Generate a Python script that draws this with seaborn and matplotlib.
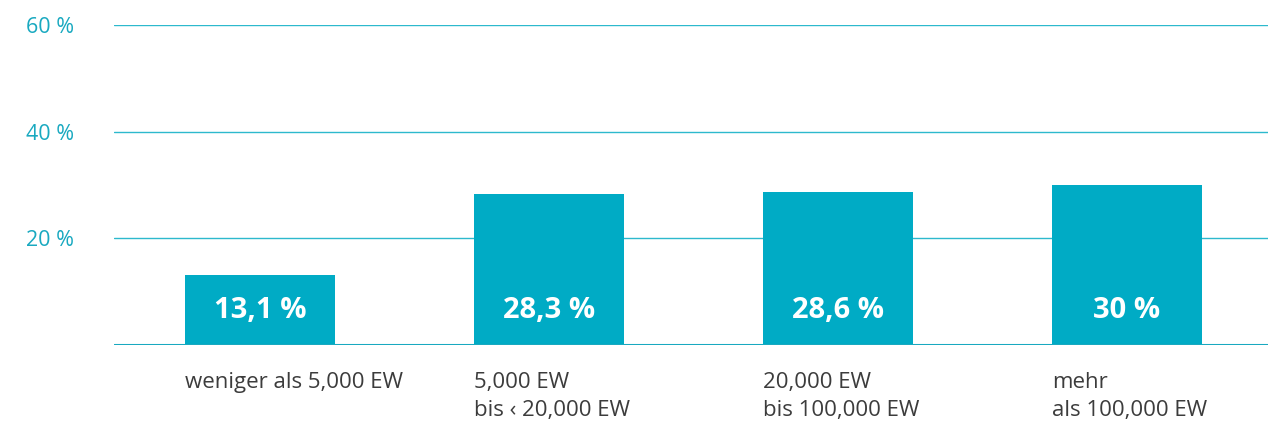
import matplotlib
matplotlib.use("Agg")
import matplotlib.pyplot as plt
import matplotlib.transforms as mtransforms
import seaborn as sns

# Data
categories = ["weniger als 5,000 EW", "5,000 EW\nbis ‹ 20,000 EW",
              "20,000 EW\nbis 100,000 EW", "mehr\nals 100,000 EW"]
values = [13.1, 28.3, 28.6, 30.0]
value_labels = ["13,1 %", "28,3 %", "28,6 %", "30 %"]
yticks = [20, 40, 60]
ytick_labels = ["20 %", "40 %", "60 %"]

bar_color = "#00abc5"
line_color = "#2db9cd"
tick_color = "#19a9c0"
text_color = "#3c3c3c"

sns.set_style("white")
plt.rcParams['font.family'] = ['Open Sans', 'DejaVu Sans']

fig = plt.figure(figsize=(12.68, 4.26), dpi=100)
ax = fig.add_axes([114 / 1268, (426 - 345) / 426, 1154 / 1268, 320 / 426])

bar_w = 150 / 289
sns.barplot(x=list(range(len(values))), y=values, color=bar_color,
            width=bar_w, saturation=1, linewidth=0, ax=ax, zorder=3)

ax.set_xlim(-0.505, 3.488)
ax.set_ylim(0, 60)

# grid lines
for t in yticks:
    ax.axhline(t, color=line_color, lw=1, zorder=1)
ax.axhline(0, color=tick_color, lw=2.2, zorder=4)

ax.set_yticks(yticks)
ax.set_yticklabels(ytick_labels, fontsize=15.5, color=tick_color)
ax.tick_params(axis='y', length=0, pad=29)
ax.set_xticks([])
ax.set_xlabel("")
ax.set_ylabel("")
sns.despine(ax=ax, left=True, bottom=True)

# value labels inside bars
for i, lab in enumerate(value_labels):
    ax.text(i, 6.4, lab, ha='center', va='center', color='white',
            fontsize=21, fontweight='bold', zorder=5)

# category labels, left aligned with bar edge
trans = mtransforms.blended_transform_factory(ax.transData, ax.transAxes)
for i, lab in enumerate(categories):
    ax.text(i - bar_w / 2, -0.085, lab, transform=trans, ha='left', va='top',
            fontsize=16, color=text_color, linespacing=1.4)

fig.savefig("out.png", dpi=100)
